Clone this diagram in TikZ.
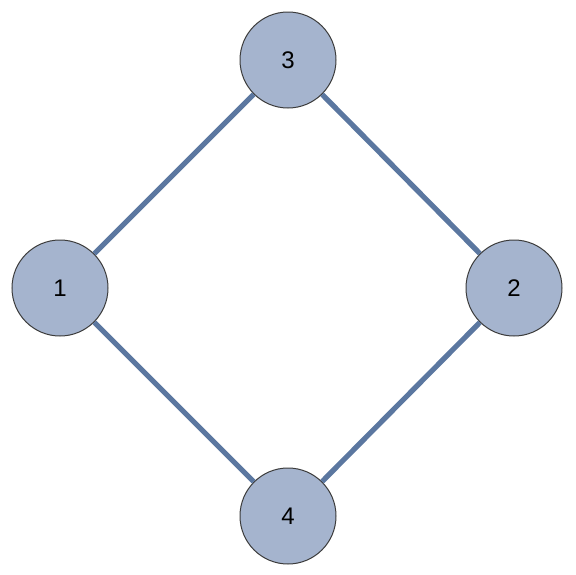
\documentclass[tikz,border=0pt]{standalone}
\usepackage{fontspec}
\setmainfont{Liberation Sans}
\usepackage{tikz}
\usetikzlibrary{positioning,calc}
\definecolor{bleuG}{HTML}{A5B4CE}
\definecolor{bleuF}{HTML}{5B77A0}
\definecolor{grisC}{HTML}{3C3C3C}
\tikzset{
  noeud/.style={circle, draw=grisC, line width=0.75pt, fill=bleuG,
                minimum size=72pt, inner sep=0pt, font=\fontsize{18pt}{20pt}\selectfont},
  lien/.style={line width=3.9pt, draw=bleuF},
}
\begin{document}
\begin{tikzpicture}[x=0.75pt, y=-0.75pt]
    \useasboundingbox (0,0) rectangle (576,575);
    \node[noeud] (n3) at (288,60) {3};
    \node[noeud] (n1) at (60,288) {1};
    \node[noeud] (n2) at (514,288) {2};
    \node[noeud] (n4) at (288,516) {4};
    \draw[lien](n1)--(n3); \draw[lien](n3)--(n2); \draw[lien](n1)--(n4); \draw[lien](n4)--(n2);
  \end{tikzpicture}
\end{document}
